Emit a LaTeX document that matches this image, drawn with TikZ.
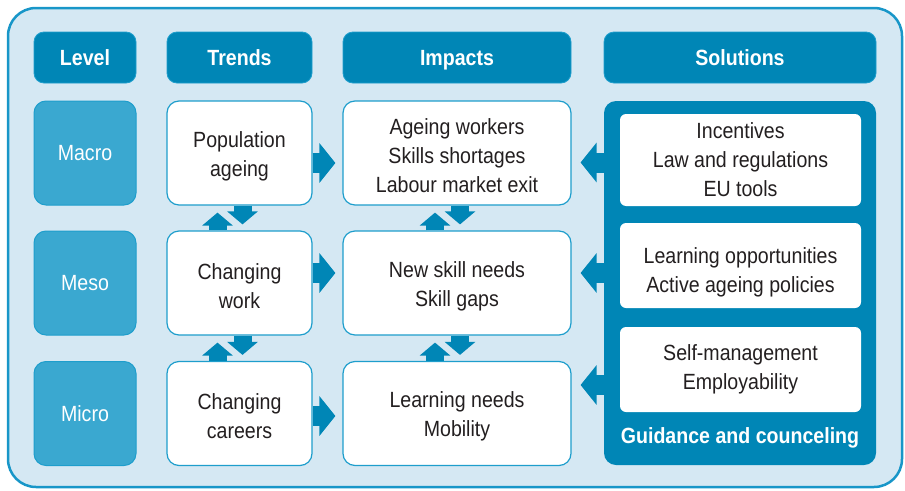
\documentclass[tikz,border=0pt]{standalone}
\usepackage{fontspec}
\setmainfont[FakeStretch=0.89]{Liberation Sans}
\usetikzlibrary{arrows.meta}
\definecolor{frameblue}{RGB}{24,150,200}
\definecolor{framefill}{RGB}{213,232,243}
\definecolor{headblue}{RGB}{0,134,182}
\definecolor{lvlblue}{RGB}{58,168,208}
\definecolor{boxline}{RGB}{30,158,204}
\definecolor{txt}{RGB}{35,31,32}
\newcommand\lift{\rule{0pt}{22pt}}
\tikzset{
  head/.style={rounded corners=10pt, fill=headblue, draw=boxline, line width=0.8pt,
    text=white, font=\bfseries, minimum height=51pt, inner sep=0pt, text depth=0pt},
  lvl/.style={rounded corners=12pt, fill=lvlblue, draw=boxline, line width=1pt,
    text=white, minimum width=102pt, minimum height=104pt},
  box/.style={rounded corners=12pt, fill=white, draw=boxline, line width=1.2pt,
    text=txt, align=center, minimum height=104pt},
  sbox/.style={rounded corners=6pt, fill=white, text=txt, align=center, minimum width=241pt},
  blk/.style={headblue, line width=20pt, -{Triangle[width=39pt,length=16pt]}},
  vblk/.style={headblue, line width=18pt, -{Triangle[width=30pt,length=13pt]}}
}
\begin{document}
\fontsize{22}{29}\selectfont
\begin{tikzpicture}[x=1pt,y=-1pt]
\useasboundingbox (0,0) rectangle (905,490);
\draw[frameblue, line width=2.5pt, fill=framefill, rounded corners=28pt] (8,8) rectangle (902,487);
% headers
\node[head, minimum width=102pt] (hlevel) at (85,57.5) {Level};
\node[head, minimum width=145pt] (htrends) at (239.5,57.5) {Trends};
\node[head, minimum width=228pt] (himpacts) at (457,57.5) {Impacts};
\node[head, minimum width=272pt] (hsol) at (740,57.5) {Solutions};
% levels
\foreach \n/\y/\t in {1/153/Macro, 2/283/Meso, 3/413.5/Micro}
  \node[lvl] (l\n) at (85,\y) {\t};
% trends and impacts
\node[box, minimum width=145pt] (t1) at (239.5,153) {\lift Population\\ageing};
\node[box, minimum width=145pt] (t2) at (239.5,283) {\lift Changing\\work};
\node[box, minimum width=145pt] (t3) at (239.5,413.5) {\lift Changing\\careers};
\node[box, minimum width=228pt] (i1) at (457,153) {\lift Ageing workers\\Skills shortages\\Labour market exit};
\node[box, minimum width=228pt] (i2) at (457,283) {\lift New skill needs\\Skill gaps};
\node[box, minimum width=228pt] (i3) at (457,413.5) {\lift Learning needs\\Mobility};
% solutions
\node[fill=headblue, rounded corners=12pt, minimum width=272pt, minimum height=364pt] (panel) at (740,283) {};
\node[sbox, minimum height=92pt] (s1) at (740.5,160) {Incentives\\Law and regulations\\EU tools};
\node[sbox, minimum height=85pt, text height=58pt] (s2) at (740.5,265.5) {Learning opportunities\\Active ageing policies};
\node[sbox, minimum height=85pt] (s3) at (740.5,369.5) {Self-management\\Employability};
\node[text=white, font=\bfseries] (guide) at (740,438) {Guidance and counceling};
% arrows
\foreach \n/\d in {1/-10, 2/10, 3/-2.5}
  \draw[blk, shorten >=7pt] ([yshift=\d pt]t\n.east) -- ([yshift=\d pt]i\n.west);
\foreach \n/\d in {1/-9.5, 2/10, 3/28.5}{
  \coordinate (p\n) at ([xshift=9pt, yshift=\d pt]i\n.east);
  \draw[blk] (panel.west |- p\n) -- (p\n);
}
\foreach \c in {t,i}
  \foreach \a/\b in {1/2, 2/3}{
    \draw[vblk, shorten >=7pt] ([xshift=-22pt]\c\b.north) -- ([xshift=-22pt]\c\a.south);
    \draw[vblk, shorten >=6pt] ([xshift=3pt]\c\a.south) -- ([xshift=3pt]\c\b.north);
  }
\end{tikzpicture}
\end{document}
